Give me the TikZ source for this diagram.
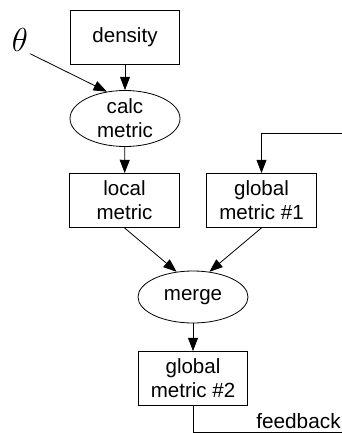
\documentclass[tikz,border=0pt]{standalone}
\usepackage{fontspec}
\setmainfont{Liberation Sans}
\usetikzlibrary{arrows.meta, positioning, shapes.geometric}

\begin{document}
\begin{tikzpicture}[
    x=0.75pt, y=-0.75pt,
    block/.style={draw, line width=0.6pt, inner sep=0pt, minimum width=82pt, minimum height=40.5pt, align=center, font=\fontsize{15.4}{18}\selectfont},
    oval/.style={ellipse, draw, line width=0.6pt, inner sep=0pt, minimum width=82.5pt, minimum height=#1, align=center, font=\fontsize{15.4}{18}\selectfont},
    >={Triangle[length=10pt, width=7.5pt]},
]
    \useasboundingbox (0,0) rectangle (342,433);

    % Blocks
    \node[block] (density) at (125, 37) {density};
    \node[oval=42pt] (calc) at (125, 118.5) {calc\\metric};
    \node[block] (local) at (124.5, 200.5) {local\\metric};
    \node[block] (global1) at (261.5, 200.5) {global\\metric \#1};
    \node[oval=39pt] (merge) at (193, 297) {merge};
    \node[block] (global2) at (193, 378.5) {global\\metric \#2};

    % Parameter
    \node[font=\fontsize{27}{30}\selectfont, inner sep=1.5pt] (theta) at (20, 40) {$\theta$};

    % Arrows
    \draw[->, line width=0.6pt] (theta.south east) -- (calc.124);
    \draw[->, line width=0.6pt] (density) -- (calc);
    \draw[->, line width=0.6pt] (calc) -- (local);
    \draw[->, line width=0.6pt] (local.south) -- (merge.123);
    \draw[->, line width=0.6pt] (global1.south) -- (merge.57);
    \draw[->, line width=0.6pt] (merge) -- (global2);

    % Feedback loop
    \coordinate (fbin) at (342, 133);
    \coordinate (fbout) at (342, 432);
    \draw[->, line width=0.6pt] (fbin) -| (global1);
    \draw[line width=0.6pt] (global2) |- (fbout);
    \node[font=\fontsize{15.6}{18}\selectfont, anchor=west, inner sep=0pt] (fblabel) at (256, 421) {feedback};
\end{tikzpicture}
\end{document}
